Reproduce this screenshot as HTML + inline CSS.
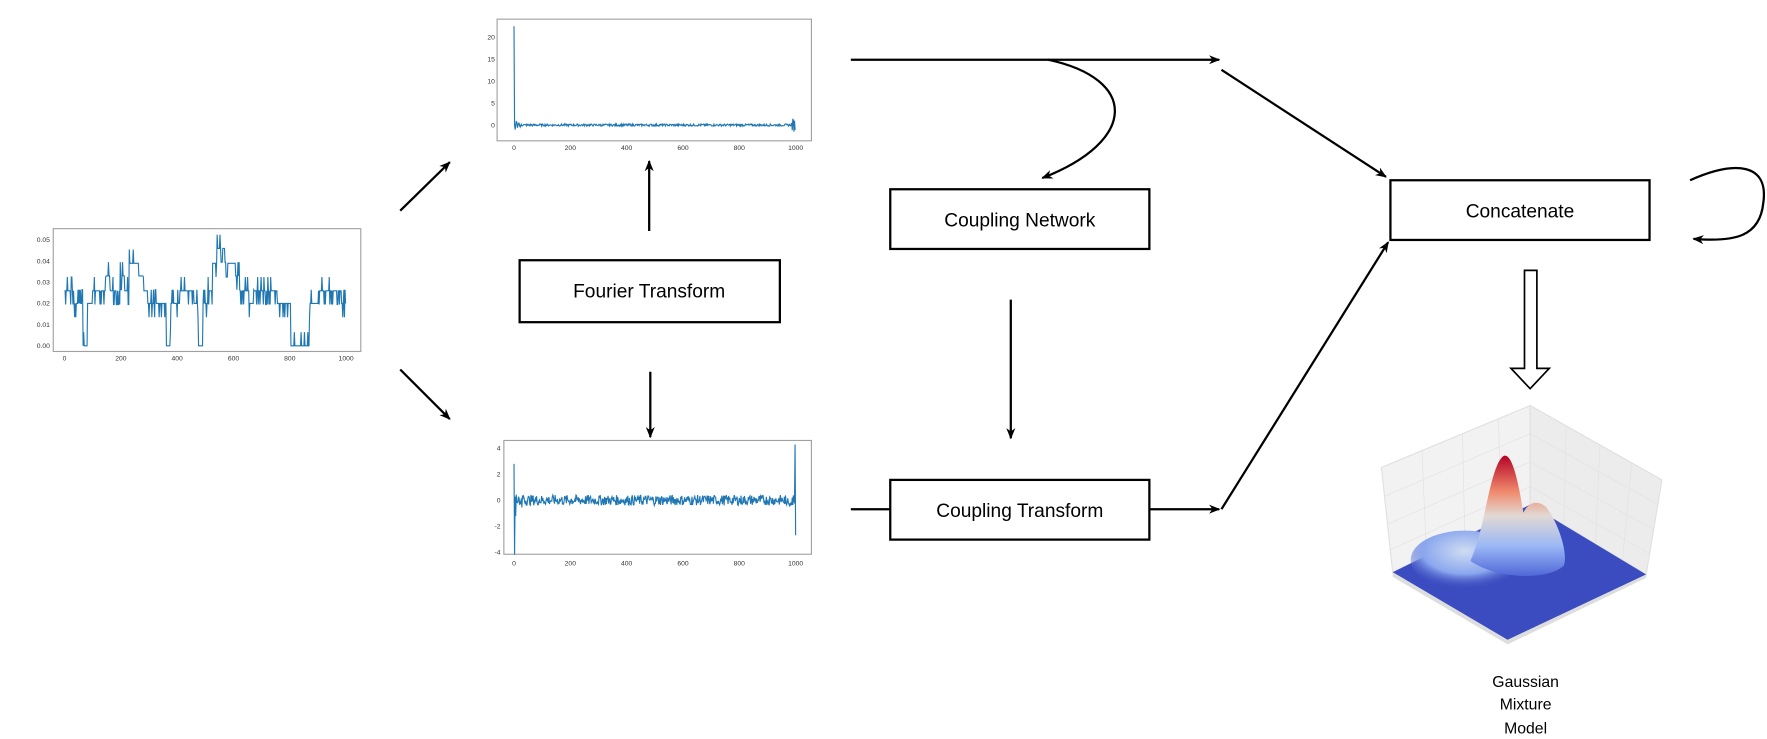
<!DOCTYPE html>
<html><head><meta charset="utf-8"><style>
html,body{margin:0;padding:0;background:#fff;}
svg{display:block;font-family:"Liberation Sans",sans-serif;}
</style></head><body>
<svg id="s" width="1767" height="739" viewBox="0 0 1568 656" xmlns="http://www.w3.org/2000/svg">
<defs>
<marker id="ah" markerWidth="10" markerHeight="8" refX="9" refY="4" orient="auto" markerUnits="userSpaceOnUse"><path d="M0,0 L10,4 L0,8 L3,4 Z" fill="#000"/></marker>
<linearGradient id="peak" x1="0" y1="0" x2="0" y2="1"><stop offset="0" stop-color="#b40426"/><stop offset="0.3" stop-color="#f08a6c"/><stop offset="0.5" stop-color="#e2d9d4"/><stop offset="0.75" stop-color="#9bb8f5"/><stop offset="1" stop-color="#4f68d8"/></linearGradient>
<radialGradient id="hump" cx="0.5" cy="0.35" r="0.65"><stop offset="0" stop-color="#d0dcf2"/><stop offset="0.6" stop-color="#8aa7ee"/><stop offset="1" stop-color="#3b4cc0" stop-opacity="0"/></radialGradient>
</defs>
<g fill="none" stroke="#a0a0a0" stroke-width="1">
<rect x="47" y="203" width="273" height="109"/>
<rect x="441" y="17" width="279" height="108"/>
<rect x="447" y="391" width="273" height="101"/>
</g>
<g id="plots" fill="none" stroke="#1f77b4" stroke-width="1"></g>
<g font-size="6" fill="#333" id="ticks"></g>
<g fill="none" stroke="#000" stroke-width="2">
<rect x="461" y="231" width="231" height="55"/>
<rect x="790" y="168" width="230" height="53"/>
<rect x="790" y="426" width="230" height="53"/>
<rect x="1234" y="160" width="230" height="53"/>
</g>
<g font-size="17" text-anchor="middle" fill="#000">
<text x="576" y="264">Fourier Transform</text>
<text x="905" y="201">Coupling Network</text>
<text x="905" y="459">Coupling Transform</text>
<text x="1349" y="193">Concatenate</text>
</g>
<g fill="none" stroke="#000" stroke-width="2" marker-end="url(#ah)">
<line x1="355" y1="187" x2="399" y2="144"/>
<line x1="355" y1="328" x2="399" y2="372"/>
<line x1="576" y1="205" x2="576" y2="143"/>
<line x1="577" y1="330" x2="577" y2="388"/>
<line x1="755" y1="53" x2="1082" y2="53"/>
<path d="M930,53 C1010,70 1010,125 925,158"/>
<line x1="1084" y1="62" x2="1230" y2="157"/>
<line x1="897" y1="266" x2="897" y2="389"/>
<line x1="1020" y1="452" x2="1082" y2="452"/>
<polyline points="1084,452 1232,215"/>
<path d="M1500,160 C1540,142 1570,145 1565,180 C1562,210 1540,215 1503,212"/>
</g>
<line x1="755" y1="452" x2="790" y2="452" stroke="#000" stroke-width="2"/>
<path d="M1353,240 L1364,240 L1364,327 L1375,327 L1358,345 L1341,327 L1353,327 Z" fill="#fff" stroke="#000" stroke-width="1.5"/>
<g>
<polygon points="1226,415 1358,360 1358,448 1236,508" fill="#f2f2f2" stroke="#e0e0e0"/>
<polygon points="1358,360 1475,426 1461,510 1358,448" fill="#ececec" stroke="#e0e0e0"/>
<g stroke="#e2e2e2" stroke-width="0.6">
<line x1="1262" y1="400" x2="1266" y2="493"/><line x1="1298" y1="385" x2="1300" y2="477"/><line x1="1330" y1="372" x2="1332" y2="462"/>
<line x1="1390" y1="378" x2="1388" y2="466"/><line x1="1420" y1="395" x2="1416" y2="483"/><line x1="1448" y1="411" x2="1440" y2="498"/>
<line x1="1230" y1="440" x2="1358" y2="385"/><line x1="1232" y1="465" x2="1358" y2="410"/><line x1="1234" y1="488" x2="1358" y2="432"/>
<line x1="1358" y1="385" x2="1472" y2="448"/><line x1="1358" y1="410" x2="1468" y2="470"/><line x1="1358" y1="432" x2="1465" y2="492"/>
</g>
<polygon points="1236,508 1358,448 1461,510 1338,568" fill="#3b4cc0"/>
<polygon points="1236,508 1338,568 1338,572 1236,512" fill="#ddd"/>
<polygon points="1338,568 1461,510 1461,513 1338,572" fill="#ddd"/>
<ellipse cx="1300" cy="497" rx="48" ry="26" fill="url(#hump)"/>
<path d="M1305,498 C1318,470 1322,415 1334,405 C1342,400 1348,430 1352,455 C1357,445 1365,444 1372,450 C1382,462 1392,490 1388,502 C1375,515 1330,515 1305,498 Z" fill="url(#peak)"/>
</g>
<g font-size="14" text-anchor="middle" fill="#000">
<text x="1354" y="610">Gaussian</text>
<text x="1354" y="630">Mixture</text>
<text x="1354" y="651">Model</text>
</g>
<script>
(function(){
var g=document.getElementById('plots'),t=document.getElementById('ticks');
var NS='http://www.w3.org/2000/svg';
function pl(pts){var p=document.createElementNS(NS,'polyline');p.setAttribute('points',pts.join(' '));g.appendChild(p);}
function tx(x,y,s,a){var e=document.createElementNS(NS,'text');e.setAttribute('x',x);e.setAttribute('y',y);if(a)e.setAttribute('text-anchor',a);e.textContent=s;t.appendChild(e);}
var seed=7;function r(){seed=(seed*9301+49297)%233280;return seed/233280;}
function ly(v){return 307-v/0.05*94;}
var lv=[0.026,0.026,0.02,0.02,0,0.02,0.026,0.026,0.026,0.033,0.026,0.026,0.033,0.026,0.039,0.039,0.033,0.026,0.02,0.02,0.02,0.02,0,0.02,0.02,0.026,0.026,0.026,0.02,0,0.02,0.026,0.039,0.046,0.046,0.039,0.039,0.033,0.026,0.026,0.02,0.026,0.026,0.026,0.026,0.026,0.02,0.02,0.02,0,0,0,0,0.02,0.02,0.026,0.026,0.026,0.026,0.026,0.02];
var pts=[];for(var i=0;i<1000;i+=2){var k=Math.floor(i/1000*lv.length);var v=lv[k];if(r()<0.25)v+=(r()<0.5?-1:1)*0.0065;if(v<0)v=0;pts.push((57+i*0.25).toFixed(1)+','+ly(v).toFixed(1));}
pl(pts);
[['0.05',0.05],['0.04',0.04],['0.03',0.03],['0.02',0.02],['0.01',0.01],['0.00',0]].forEach(function(a){tx(44,ly(a[1])+2,a[0],'end');});
[0,200,400,600,800,1000].forEach(function(v){tx(57+v*0.25,320,v,'middle');});
function ty(v){return 111-v*3.9;}
pts=[];for(i=0;i<=1000;i+=2){var v=0;if(i==0)v=22.5;else if(i<30)v=(r()-0.5)*3*(1-i/30)+(r()-0.5)*0.5;else if(i>985)v=(r()-0.5)*3;else v=(r()-0.5)*0.5;pts.push((456+i*0.25).toFixed(1)+','+ty(v).toFixed(1));}
pl(pts);
[20,15,10,5,0].forEach(function(v){tx(439,ty(v)+2,v,'end');});
[0,200,400,600,800,1000].forEach(function(v){tx(456+v*0.25,133,v,'middle');});
function by(v){return 444-v*11.5;}
pts=[];for(i=0;i<=1000;i+=2){var v;if(i<4)v=(i==0?2.8:-4.2);else if(i<40)v=(r()-0.5)*2.5*(1-i/40)+(r()-0.5)*0.8;else if(i>960)v=(r()-0.5)*1.5*((i-960)/40)+(r()-0.5)*0.8;else v=(r()-0.5)*0.8;if(i==998)v=4.3;if(i==1000)v=-2.7;pts.push((456+i*0.25).toFixed(1)+','+by(v).toFixed(1));}
pl(pts);
[4,2,0,-2,-4].forEach(function(v){tx(444,by(v)+2,v,'end');});
[0,200,400,600,800,1000].forEach(function(v){tx(456+v*0.25,502,v,'middle');});
})();
</script>
</svg>
</body></html>
